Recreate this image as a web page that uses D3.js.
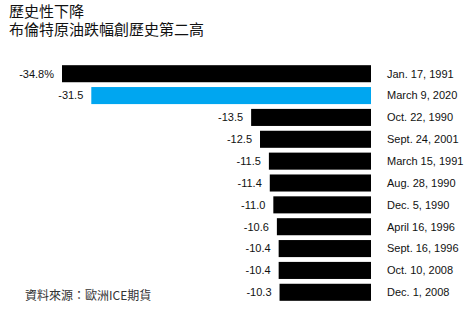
<!DOCTYPE html>
<meta charset="utf-8">
<style>
body { margin: 0; background: #fff; }
text { font-family: "Liberation Sans", Arial, sans-serif; }
.zh { font-family: "Noto Sans CJK TC", sans-serif; }
</style>
<body>
<script src="https://d3js.org/d3.v7.min.js"></script>
<script>
// data
var dates = ["Jan. 17, 1991", "March 9, 2020", "Oct. 22, 1990", "Sept. 24, 2001",
  "March 15, 1991", "Aug. 28, 1990", "Dec. 5, 1990", "April 16, 1996",
  "Sept. 16, 1996", "Oct. 10, 2008", "Dec. 1, 2008"];
var drops = [-34.8, -31.5, -13.5, -12.5, -11.5, -11.4, -11.0, -10.6, -10.4, -10.4, -10.3];
var valueLabels = ["-34.8%", "-31.5", "-13.5", "-12.5", "-11.5", "-11.4", "-11.0", "-10.6", "-10.4", "-10.4", "-10.3"];
var highlight = "March 9, 2020";

var width = 474, height = 316;

var svg = d3.select("body").append("svg")
    .attr("width", width)
    .attr("height", height);

// zero sits at the right end of the bars
var x = d3.scaleLinear().domain([-34.8, 0]).range([62, 371]);
var y = d3.scaleBand().domain(dates).range([63, 303]).paddingInner(0.22).paddingOuter(0.1);

svg.selectAll(".bar")
    .data(dates)
  .enter().append("rect")
    .attr("class", "bar")
    .attr("x", function(d, i) { return x(drops[i]); })
    .attr("y", function(d) { return y(d); })
    .attr("width", function(d, i) { return x(0) - x(drops[i]); })
    .attr("height", y.bandwidth())
    .attr("fill", function(d) { return d == highlight ? "#00a6f0" : "#000"; });

// values left of each bar
svg.selectAll(".val")
    .data(dates)
  .enter().append("text")
    .attr("x", function(d, i) { return x(drops[i]) - 8; })
    .attr("y", function(d) { return y(d) + y.bandwidth() / 2; })
    .attr("dy", "0.35em")
    .attr("text-anchor", "end")
    .attr("font-size", 11)
    .attr("fill", "#111")
    .text(function(d, i) { return valueLabels[i]; });

// dates right of the bars
svg.selectAll(".date")
    .data(dates)
  .enter().append("text")
    .attr("x", 387)
    .attr("y", function(d) { return y(d) + y.bandwidth() / 2; })
    .attr("dy", "0.35em")
    .attr("font-size", 11)
    .attr("fill", "#111")
    .text(function(d) { return d; });

svg.append("text").attr("class", "zh")
    .attr("x", 9).attr("y", 17)
    .attr("font-size", 15).attr("fill", "#111")
    .text("歷史性下降");
svg.append("text").attr("class", "zh")
    .attr("x", 9).attr("y", 35)
    .attr("font-size", 15).attr("fill", "#111")
    .text("布倫特原油跌幅創歷史第二高");

svg.append("text").attr("class", "zh")
    .attr("x", 25).attr("y", 300)
    .attr("font-size", 12).attr("fill", "#333")
    .text("資料來源：歐洲ICE期貨");
</script>
</body>
